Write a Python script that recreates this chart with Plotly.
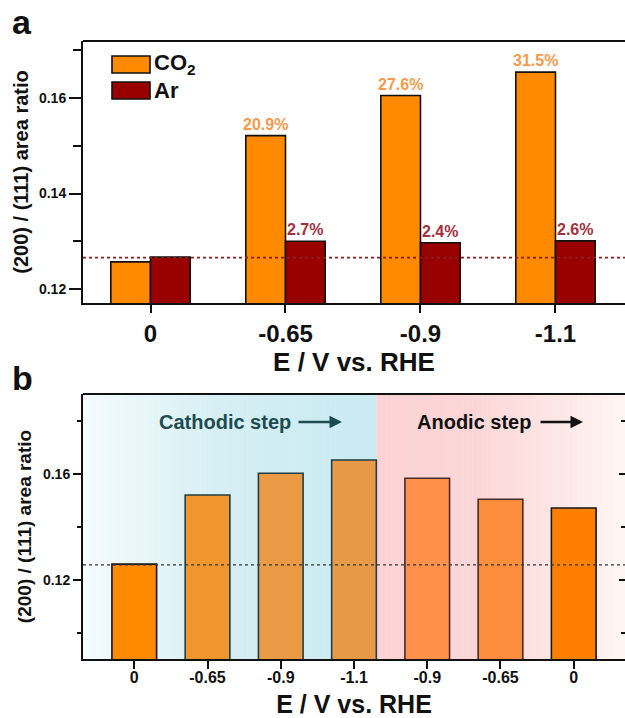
import plotly.graph_objects as go
import numpy as np

# ---------------- data ----------------
cats_a = ["0", "-0.65", "-0.9", "-1.1"]
co2_vals = [0.1257, 0.1521, 0.1605, 0.1654]
ar_vals = [0.1267, 0.1300, 0.1297, 0.1301]
co2_labels = ["", "20.9%", "27.6%", "31.5%"]
ar_labels = ["", "2.7%", "2.4%", "2.6%"]
ref_a = 0.1266

cats_b = ["0", "-0.65", "-0.9", "-1.1", "-0.9", "-0.65", "0"]
vals_b = [0.1260, 0.1521, 0.1603, 0.1653, 0.1584, 0.1505, 0.1472]
ref_b = 0.1257

W, H = 625, 718
FONT = "Liberation Sans, Arial, sans-serif"
BW = 0.294  # bar width (category units) in panel a

def px(x):
    return x / W

def py(y):
    return 1 - y / H

fig = go.Figure()

# ---------------- panel a ----------------
fig.add_trace(go.Bar(
    x=cats_a, y=co2_vals, name="CO2", xaxis="x", yaxis="y",
    width=BW, offset=-BW,
    marker=dict(color="#FF8A00", line=dict(color="#111111", width=1.6)),
    showlegend=False,
))
fig.add_trace(go.Bar(
    x=cats_a, y=ar_vals, name="Ar", xaxis="x", yaxis="y",
    width=BW, offset=0.0,
    marker=dict(color="#990000", line=dict(color="#111111", width=1.6)),
    showlegend=False,
))

# ---------------- panel b ----------------
bar_cols_b = ["#FF8A00", "#F0962F", "#EA9A44", "#E69A48", "#FF914D", "#FB8D3C", "#FF8000"]
line_cols_b = ["#151515", "#1F3F42", "#1F3F42", "#1F3F42", "#4A2A28", "#4A2A28", "#151515"]
xb = list(range(len(vals_b)))
fig.add_trace(go.Bar(
    x=xb, y=vals_b, xaxis="x2", yaxis="y2",
    width=0.61, offset=-0.305,
    marker=dict(color=bar_cols_b, line=dict(color=line_cols_b, width=1.6)),
    showlegend=False,
))
# invisible trace for right mirrored tick axis
fig.add_trace(go.Scatter(x=[0], y=[0.12], xaxis="x2", yaxis="y3",
                         mode="markers", marker=dict(opacity=0), showlegend=False,
                         hoverinfo="skip"))

# domains
xa_dom = [px(83), 1.0]
ya_dom = [py(303), py(41)]
xb_dom = [px(83), 1.0]
yb_dom = [py(659), py(394)]

axis_common = dict(showline=True, linecolor="#111111", linewidth=2, zeroline=False,
                   showgrid=False)

fig.update_layout(
    width=W, height=H,
    margin=dict(l=0, r=0, t=0, b=0),
    paper_bgcolor="white", plot_bgcolor="rgba(0,0,0,0)",
    font=dict(family=FONT, color="#111111"),
    barmode="overlay",
    xaxis=dict(domain=xa_dom, anchor="y", type="category",
               range=[-0.5, 3.515], ticks="outside", ticklen=8, tickwidth=2,
               tickcolor="#111111",
               tickfont=dict(family=FONT, size=24, weight="bold"),
               title=dict(text="E / V vs. RHE", font=dict(family=FONT, size=26, weight="bold"),
                          standoff=4),
               **axis_common),
    yaxis=dict(domain=ya_dom, anchor="x", range=[0.1171, 0.1719],
               tickvals=[0.12, 0.14, 0.16], ticktext=["0.12", "0.14", "0.16"],
               ticks="outside", ticklen=12, tickwidth=2, tickcolor="#111111",
               minor=dict(tickvals=[0.13, 0.15, 0.17], ticks="outside", ticklen=8,
                          tickwidth=2, tickcolor="#111111"),
               tickfont=dict(family=FONT, size=14, weight="bold"),
               title=dict(text="(200) / (111) area ratio",
                          font=dict(family=FONT, size=20, weight="bold"), standoff=5),
               **axis_common),
    xaxis2=dict(domain=xb_dom, anchor="y2", range=[-0.7, 6.7],
                tickvals=xb, ticktext=cats_b,
                ticks="outside", ticklen=8, tickwidth=2, tickcolor="#111111",
                ticklabelstandoff=-5,
                tickfont=dict(family=FONT, size=16, weight="bold"),
                title=dict(text="E / V vs. RHE", font=dict(family=FONT, size=25, weight="bold"),
                           standoff=12),
                **axis_common),
    yaxis2=dict(domain=yb_dom, anchor="x2", range=[0.0902, 0.1902],
                tickvals=[0.12, 0.16], ticktext=["0.12", "0.16"],
                ticks="outside", ticklen=8, tickwidth=2, tickcolor="#111111",
                minor=dict(tickvals=[0.10, 0.14, 0.18], ticks="outside", ticklen=4,
                           tickwidth=2, tickcolor="#111111"),
                tickfont=dict(family=FONT, size=14, weight="bold"),
                title=dict(text="(200) / (111) area ratio",
                           font=dict(family=FONT, size=19, weight="bold"), standoff=6),
                **axis_common),
    yaxis3=dict(overlaying="y2", anchor="x2", side="right", range=[0.0902, 0.1902],
                tickvals=[0.12, 0.16], showticklabels=False,
                ticks="inside", ticklen=6, tickwidth=2, tickcolor="#111111",
                minor=dict(tickvals=[0.10, 0.14, 0.18], ticks="inside", ticklen=4,
                           tickwidth=2, tickcolor="#111111"),
                showline=False, showgrid=False, zeroline=False),
)

shapes = []

# gradient background for panel b
def hex2rgb(h):
    h = h.lstrip("#")
    return np.array([int(h[i:i + 2], 16) for i in (0, 2, 4)], dtype=float)

def grad(stops, t):
    ts = [s[0] for s in stops]
    cs = [hex2rgb(s[1]) for s in stops]
    for i in range(len(ts) - 1):
        if ts[i] <= t <= ts[i + 1]:
            f = (t - ts[i]) / (ts[i + 1] - ts[i])
            c = cs[i] * (1 - f) + cs[i + 1] * f
            return "rgb(%d,%d,%d)" % tuple(np.round(c))
    c = cs[-1]
    return "rgb(%d,%d,%d)" % tuple(np.round(c))

x_start, x_split, x_end = -0.7, 3.305, 6.75
cyan_stops = [(0, "#F6FCFE"), (0.1, "#EEF9FB"), (0.45, "#D6EFF4"), (1, "#C8EAF1")]
pink_stops = [(0, "#FDD2D5"), (0.4, "#FCD6D7"), (0.75, "#FDE8E7"), (1, "#FFF7F5")]
N = 50
for stops, a, b in [(cyan_stops, x_start, x_split), (pink_stops, x_split, x_end)]:
    edges = np.linspace(a, b, N + 1)
    for i in range(N):
        t = (i + 0.5) / N
        shapes.append(dict(type="rect", xref="x2", yref="y2 domain",
                           x0=edges[i], x1=edges[i + 1] + 0.005, y0=0, y1=1,
                           fillcolor=grad(stops, t), line=dict(width=0), layer="below"))

# top frame lines
shapes.append(dict(type="line", xref="x domain", yref="y domain", x0=0, x1=1, y0=1, y1=1,
                   line=dict(color="#111111", width=2)))
shapes.append(dict(type="line", xref="x2 domain", yref="y2 domain", x0=0, x1=1, y0=1, y1=1,
                   line=dict(color="#111111", width=2)))

# reference dotted lines
shapes.append(dict(type="line", xref="x domain", yref="y", x0=0, x1=1, y0=ref_a, y1=ref_a,
                   line=dict(color="#8B1E1E", width=1.8, dash="dot"), layer="above"))
shapes.append(dict(type="line", xref="x2 domain", yref="y2", x0=0, x1=1, y0=ref_b, y1=ref_b,
                   line=dict(color="#333333", width=1.2, dash="dot"), layer="above"))

# custom legend patches
shapes.append(dict(type="rect", xref="paper", yref="paper",
                   x0=px(112), x1=px(150), y0=py(73), y1=py(56),
                   fillcolor="#FF8A00", line=dict(color="#111111", width=1.6)))
shapes.append(dict(type="rect", xref="paper", yref="paper",
                   x0=px(112), x1=px(150), y0=py(99), y1=py(82),
                   fillcolor="#990000", line=dict(color="#111111", width=1.6)))

annotations = [
    dict(text="CO<sub>2</sub>", x=px(152), y=py(64), xref="paper", yref="paper",
         xanchor="left", yanchor="middle", showarrow=False,
         font=dict(family=FONT, size=22, weight="bold", color="#111111")),
    dict(text="Ar", x=px(152), y=py(90), xref="paper", yref="paper",
         xanchor="left", yanchor="middle", showarrow=False,
         font=dict(family=FONT, size=22, weight="bold", color="#111111")),
    dict(text="a", x=px(10), y=py(22), xref="paper", yref="paper",
         xanchor="left", yanchor="middle", showarrow=False,
         font=dict(family=FONT, size=34, weight="bold", color="#111111")),
    dict(text="b", x=px(10), y=py(378), xref="paper", yref="paper",
         xanchor="left", yanchor="middle", showarrow=False,
         font=dict(family=FONT, size=34, weight="bold", color="#111111")),
    dict(text="Cathodic step", x=px(342), y=py(422), xref="paper", yref="paper",
         ax=-117, ay=0, showarrow=True, arrowhead=2, arrowsize=1, arrowwidth=2.5,
         arrowcolor="#1E4B50", startstandoff=6,
         font=dict(family=FONT, size=20, weight="bold", color="#1E4B50")),
    dict(text="Anodic step", x=px(583), y=py(422), xref="paper", yref="paper",
         ax=-109, ay=0, showarrow=True, arrowhead=2, arrowsize=1, arrowwidth=2.5,
         arrowcolor="#111111", startstandoff=8,
         font=dict(family=FONT, size=20, weight="bold", color="#111111")),
]

# percentage labels above the bars (only where a label exists)
for i, (lab, v) in enumerate(zip(co2_labels, co2_vals)):
    if lab:
        annotations.append(dict(text=lab, x=i - BW / 2, y=v, xref="x", yref="y",
                                xanchor="center", yanchor="bottom", yshift=1,
                                showarrow=False,
                                font=dict(family=FONT, size=16, weight="bold",
                                          color="#F49A4C")))
for i, (lab, v) in enumerate(zip(ar_labels, ar_vals)):
    if lab:
        annotations.append(dict(text=lab, x=i + BW / 2, y=v, xref="x", yref="y",
                                xanchor="center", yanchor="bottom", yshift=1,
                                showarrow=False,
                                font=dict(family=FONT, size=16, weight="bold",
                                          color="#A3303E")))

fig.update_layout(shapes=shapes, annotations=annotations)
# remove the default 8px page margin so the figure sits at the window's top-left
fig.write_html("out.html", config={"displayModeBar": False},
               post_script="document.body.style.margin='0px';")
